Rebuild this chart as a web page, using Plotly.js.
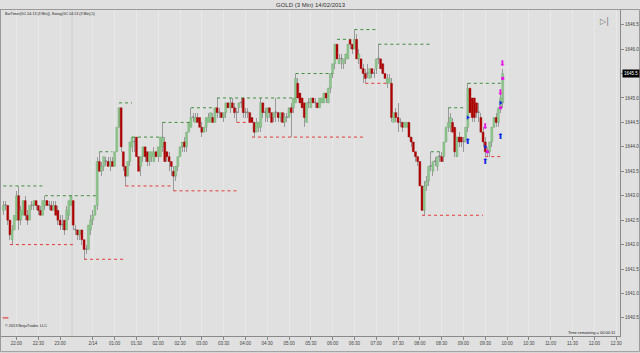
<!DOCTYPE html>
<html><head><meta charset="utf-8">
<script src="https://cdn.plot.ly/plotly-3.0.1.min.js"></script>
<style>html,body{margin:0;padding:0;background:#e0e0e0;}#chart{width:640px;height:353px;}</style>
</head><body><div id="chart"></div>
<script>
// bar numbers: first bar is -6 (bar 0 = 22:00), 3-minute bars
const firstBar = -6;
const open = [
1642.7,1642.8,1642.8,1642.5,1642.1,1642.3,1642.5,1643.0,1642.5,1642.6,
1642.9,1642.6,1642.5,1642.8,1642.8,1642.9,1642.8,1642.7,1642.6,1642.8,
1642.9,1642.8,1642.8,1642.7,1642.8,1642.7,1642.5,1642.4,1642.5,1642.3,
1642.6,1642.8,1642.9,1642.3,1642.3,1642.2,1642.3,1642.1,1641.9,1641.9,
1642.3,1642.5,1642.6,1642.8,1643.7,1643.5,1643.6,1643.7,1643.7,1643.6,
1643.7,1643.6,1643.9,1644.4,1644.8,1643.9,1643.6,1643.4,1643.7,1644.0,
1644.1,1644.2,1643.8,1643.6,1643.8,1644.0,1643.9,1643.7,1643.8,1643.7,
1643.9,1643.8,1643.8,1644.0,1644.1,1643.9,1643.8,1643.7,1643.5,1643.4,
1643.6,1643.8,1644.0,1644.1,1644.0,1644.3,1644.4,1644.6,1644.5,1644.6,
1644.6,1644.4,1644.3,1644.4,1644.5,1644.5,1644.6,1644.5,1644.8,1644.7,
1644.7,1644.6,1644.7,1644.9,1644.8,1644.9,1644.8,1644.7,1644.8,1644.9,
1645.0,1644.7,1644.7,1644.7,1644.6,1644.5,1644.3,1644.4,1644.4,1644.9,
1644.7,1644.6,1644.8,1644.7,1644.6,1644.7,1644.7,1644.6,1644.7,1644.5,
1644.6,1644.6,1644.8,1644.8,1644.9,1645.3,1645.1,1645.0,1644.9,1644.5,
1644.9,1644.8,1645.0,1644.9,1644.9,1644.8,1644.9,1644.9,1645.1,1644.9,
1645.2,1645.5,1645.7,1646.1,1645.7,1645.8,1645.7,1645.8,1645.8,1646.2,
1646.1,1646.0,1646.2,1645.8,1645.8,1645.6,1645.5,1645.5,1645.4,1645.6,
1645.5,1645.6,1645.8,1645.8,1645.7,1645.5,1645.3,1645.3,1645.3,1644.5,
1644.7,1644.6,1644.5,1644.5,1644.4,1644.4,1644.5,1644.2,1644.1,1643.9,
1643.8,1643.7,1643.2,1642.7,1643.2,1643.3,1643.6,1643.5,1643.7,1643.6,
1643.8,1643.8,1643.8,1644.1,1644.4,1644.4,1644.5,1644.4,1643.8,1644.2,
1644.2,1644.1,1644.1,1644.4,1645.2,1645.0,1645.0,1644.9,1644.7,1644.6,
1644.3,1644.1,1643.9,1643.9,1644.1,1644.4,1644.6,1644.5,1644.8,1644.9];
const high = [
1642.9,1642.9,1642.8,1642.5,1642.4,1642.6,1643.1,1643.2,1642.8,1643.0,
1643.0,1642.7,1642.8,1642.9,1642.9,1642.9,1642.8,1642.8,1642.9,1643.0,
1642.9,1642.9,1642.9,1642.9,1642.9,1642.8,1642.6,1642.6,1642.5,1642.8,
1642.9,1643.0,1642.9,1642.4,1642.3,1642.3,1642.3,1642.1,1642.0,1642.4,
1642.6,1642.7,1642.9,1643.8,1643.9,1643.7,1643.8,1643.8,1643.8,1643.8,
1643.8,1643.9,1644.4,1644.9,1644.8,1643.9,1643.6,1643.7,1644.1,1644.2,
1644.2,1644.2,1643.8,1643.8,1644.0,1644.0,1643.9,1643.9,1643.9,1644.0,
1644.0,1644.0,1644.2,1644.5,1644.2,1643.9,1643.9,1643.7,1643.6,1643.6,
1643.8,1644.0,1644.1,1644.2,1644.3,1644.5,1644.8,1644.7,1644.7,1644.7,
1644.6,1644.5,1644.5,1644.6,1644.7,1644.7,1644.7,1644.8,1645.0,1644.8,
1644.7,1644.7,1644.9,1644.9,1645.0,1645.0,1644.9,1644.8,1644.9,1645.0,
1645.0,1644.8,1644.8,1644.7,1644.7,1644.5,1644.6,1644.5,1645.0,1644.9,
1644.8,1644.8,1644.8,1644.7,1644.7,1645.0,1644.7,1644.7,1644.7,1644.7,
1644.7,1644.8,1644.9,1645.0,1645.5,1645.4,1645.1,1645.0,1644.9,1644.9,
1645.0,1645.0,1645.0,1645.0,1644.9,1645.0,1645.0,1645.1,1645.1,1645.2,
1645.5,1645.7,1646.1,1646.2,1645.9,1645.9,1645.8,1645.9,1646.1,1646.2,
1646.1,1646.4,1646.3,1646.0,1645.8,1645.7,1645.6,1645.7,1645.6,1645.6,
1645.6,1645.8,1646.1,1645.8,1645.7,1645.5,1645.5,1645.5,1645.4,1644.7,
1644.8,1644.9,1644.6,1644.5,1644.5,1644.5,1644.5,1644.2,1644.1,1643.9,
1643.8,1643.7,1643.3,1643.3,1643.4,1643.6,1643.9,1643.7,1643.8,1643.8,
1643.9,1643.9,1644.1,1644.4,1644.8,1644.7,1644.6,1644.4,1644.2,1644.3,
1644.2,1644.2,1644.4,1645.3,1645.2,1645.0,1645.0,1644.9,1644.9,1644.7,
1644.4,1644.2,1644.0,1644.1,1644.4,1644.6,1644.7,1644.8,1645.1,1645.6];
const low = [
1642.6,1642.7,1642.4,1642.1,1642.0,1642.3,1642.5,1642.3,1642.4,1642.5,
1642.5,1642.4,1642.5,1642.7,1642.7,1642.7,1642.6,1642.6,1642.6,1642.7,
1642.7,1642.7,1642.7,1642.7,1642.6,1642.4,1642.3,1642.3,1642.2,1642.3,
1642.5,1642.7,1642.3,1642.2,1642.1,1642.1,1642.0,1641.7,1641.8,1641.9,
1642.2,1642.4,1642.5,1642.7,1643.5,1643.4,1643.5,1643.6,1643.6,1643.5,
1643.6,1643.6,1643.9,1644.3,1643.9,1643.5,1643.2,1643.4,1643.6,1643.9,
1643.9,1643.8,1643.5,1643.4,1643.7,1643.7,1643.6,1643.6,1643.7,1643.7,
1643.5,1643.7,1643.8,1643.9,1643.7,1643.7,1643.5,1643.4,1643.1,1643.3,
1643.5,1643.7,1643.9,1643.9,1643.9,1644.3,1644.4,1644.5,1644.5,1644.5,
1644.4,1644.2,1644.3,1644.3,1644.5,1644.5,1644.5,1644.5,1644.6,1644.6,
1644.6,1644.5,1644.6,1644.7,1644.7,1644.8,1644.6,1644.5,1644.7,1644.8,
1644.6,1644.6,1644.6,1644.5,1644.2,1644.2,1644.3,1644.3,1644.3,1644.6,
1644.5,1644.5,1644.6,1644.5,1644.5,1644.5,1644.5,1644.5,1644.5,1644.4,
1644.5,1644.5,1644.2,1644.7,1644.9,1645.0,1644.9,1644.8,1644.4,1644.5,
1644.8,1644.8,1644.9,1644.8,1644.8,1644.8,1644.9,1644.9,1644.9,1644.9,
1645.1,1645.4,1645.6,1645.7,1645.7,1645.6,1645.6,1645.7,1645.8,1646.0,
1645.9,1646.0,1645.8,1645.7,1645.6,1645.3,1645.3,1645.4,1645.4,1645.4,
1645.4,1645.5,1645.7,1645.6,1645.5,1645.3,1645.2,1645.3,1644.5,1644.5,
1644.5,1644.3,1644.4,1644.3,1644.4,1644.4,1644.2,1644.0,1643.9,1643.7,
1643.6,1643.2,1642.6,1642.6,1643.1,1643.2,1643.5,1643.4,1643.6,1643.5,
1643.7,1643.7,1643.7,1644.0,1644.3,1644.3,1644.3,1643.8,1643.8,1644.0,
1644.0,1643.9,1644.1,1644.3,1644.6,1644.5,1644.5,1644.6,1644.5,1644.3,
1644.0,1643.8,1643.8,1643.8,1644.0,1644.3,1644.4,1644.4,1644.7,1644.8];
const close = [
1642.8,1642.8,1642.5,1642.2,1642.3,1642.6,1643.0,1642.5,1642.7,1642.9,
1642.6,1642.5,1642.8,1642.8,1642.9,1642.8,1642.7,1642.6,1642.9,1642.9,
1642.8,1642.8,1642.7,1642.8,1642.6,1642.5,1642.4,1642.4,1642.3,1642.7,
1642.9,1643.0,1642.4,1642.3,1642.2,1642.3,1642.1,1641.9,1641.9,1642.4,
1642.5,1642.6,1642.8,1643.7,1643.5,1643.6,1643.8,1643.7,1643.6,1643.7,
1643.6,1643.9,1644.4,1644.8,1644.0,1643.6,1643.4,1643.7,1644.1,1644.2,
1644.1,1643.8,1643.5,1643.8,1644.0,1643.8,1643.7,1643.9,1643.9,1643.9,
1643.8,1644.0,1644.2,1644.2,1643.7,1643.8,1643.7,1643.6,1643.4,1643.6,
1643.8,1644.0,1644.1,1644.0,1644.3,1644.5,1644.6,1644.6,1644.6,1644.5,
1644.4,1644.3,1644.4,1644.6,1644.6,1644.7,1644.5,1644.8,1644.7,1644.7,
1644.6,1644.7,1644.9,1644.8,1644.9,1644.8,1644.7,1644.7,1644.9,1644.9,
1644.7,1644.7,1644.7,1644.5,1644.5,1644.3,1644.5,1644.5,1644.9,1644.7,
1644.7,1644.8,1644.7,1644.5,1644.7,1644.7,1644.6,1644.7,1644.5,1644.6,
1644.6,1644.8,1644.7,1645.0,1645.4,1645.0,1644.9,1644.8,1644.6,1644.9,
1644.9,1645.0,1644.9,1644.9,1644.8,1645.0,1645.0,1645.1,1645.0,1645.2,
1645.5,1645.7,1646.1,1645.8,1645.8,1645.8,1645.8,1645.9,1646.1,1646.1,
1646.0,1646.2,1645.8,1645.9,1645.6,1645.5,1645.4,1645.5,1645.6,1645.5,
1645.5,1645.8,1645.8,1645.6,1645.5,1645.4,1645.4,1645.4,1644.6,1644.7,
1644.6,1644.5,1644.5,1644.4,1644.5,1644.5,1644.2,1644.1,1643.9,1643.8,
1643.7,1643.2,1642.7,1643.2,1643.3,1643.6,1643.6,1643.7,1643.7,1643.8,
1643.8,1643.7,1644.1,1644.4,1644.5,1644.6,1644.3,1643.9,1644.2,1644.1,
1644.1,1644.1,1644.4,1645.2,1644.7,1644.6,1644.6,1644.7,1644.7,1644.3,
1644.1,1643.9,1643.9,1644.1,1644.4,1644.6,1644.5,1644.8,1645.0,1645.5];

// swing high / low levels (price) and the bars they span
const swingHighLevel = [1643.2,1643.0,1643.9,1644.9,1644.2,1644.5,1644.8,1645.0,1645.5,1646.2,1646.4,1646.1,1643.9,1644.8,1645.3];
const swingHighFrom  = [-6,13,38,47,53,67,80,92,128,147,155,166,190,198,207];
const swingHighTo    = [12,37,44,53,67,80,91,128,145,153,166,190,195,206,223];
const swingLowLevel  = [1642.0,1641.7,1643.2,1643.1,1644.5,1644.2,1645.3,1642.6,1643.8];
const swingLowFrom   = [-3,31,50,72,101,108,160,186,215];
const swingLowTo     = [27,50,72,101,108,160,170,214,222];

// signal markers (bar, price)
const buyArrowBar = [207,215,222], buyArrowPrice = [1644.1,1643.7,1644.2];
const buyTickBar = [207,215,222], buyTickPrice = [1644.6,1644.0,1644.9];
const sellArrowBar = [215,222,223], sellArrowPrice = [1644.4,1645.1,1645.7];
const sellTickBar = [216,222,223], sellTickPrice = [1643.9,1644.8,1645.4];
const timerBar = [-5], timerPrice = [1640.5];

// time axis
const tickBars = [0,10,20,35,45,55,65,75,85,95,105,115,125,135,145,155,165,175,185,195,205,215,225,235,245,255,265,275];
const tickLabels = ['22:00','22:30','23:00','2/14','01:00','01:30','02:00','02:30','03:00','03:30','04:00','04:30','05:00','05:30','06:00','06:30','07:00','07:30','08:00','08:30','09:00','09:30','10:00','10:30','11:00','11:30','12:00','12:30'];
const lastPrice = 1645.5;

const xs = open.map((_, i) => firstBar + i);
const bodyBase = open.map((o, i) => Math.min(o, close[i]));
const bodyLen = open.map((o, i) => Math.max(Math.abs(close[i] - o), 0.018));
const bodyColor = open.map((o, i) => close[i] > o ? '#8cc98c' : (close[i] < o ? '#b00000' : '#808080'));
const bodyEdge = open.map((o, i) => close[i] > o ? '#6f9f6f' : (close[i] < o ? '#9a0000' : '#808080'));
const wickLen = high.map((h, i) => h - low[i]);

function levelTrace(levels, from, to, color) {
  const x = [], y = [];
  levels.forEach((lv, i) => { x.push(from[i], to[i], null); y.push(lv, lv, null); });
  return {type:'scatter', mode:'lines', x, y, line:{color, width:1, dash:'dot'}, hoverinfo:'skip'};
}

const traces = [
  levelTrace(swingHighLevel, swingHighFrom, swingHighTo, '#3f8f3f'),
  levelTrace(swingLowLevel, swingLowFrom, swingLowTo, '#e23a3a'),
  {type:'bar', x:xs, base:low, y:wickLen, width:0.42, marker:{color:'#9a9a9a', line:{width:0}}, hoverinfo:'skip'},
  {type:'bar', x:xs, base:bodyBase, y:bodyLen, width:0.9, marker:{color:bodyColor, line:{color:bodyEdge, width:0.4}}, hoverinfo:'skip'},
  {type:'scatter', mode:'text', x:buyArrowBar, y:buyArrowPrice, text:buyArrowBar.map(() => '⬆'), textfont:{family:'DejaVu Sans', size:8, color:'#1428e6'}},
  {type:'scatter', mode:'markers', x:buyTickBar, y:buyTickPrice, marker:{symbol:'triangle-right', size:4, color:'#1428e6'}},
  {type:'scatter', mode:'text', x:sellArrowBar, y:sellArrowPrice, text:sellArrowBar.map(() => '⬇'), textfont:{family:'DejaVu Sans', size:8, color:'#e614e6'}},
  {type:'scatter', mode:'markers', x:sellTickBar, y:sellTickPrice, marker:{symbol:'square', size:3, color:'#e614e6'}},
  {type:'scatter', mode:'markers', x:timerBar, y:timerPrice, marker:{symbol:'line-ew', size:4, line:{color:'#e02020', width:1}}}
];

const F = 'Liberation Sans, Arial, sans-serif';
const layout = {
  width:640, height:353,
  margin:{l:1, r:20, t:10, b:17, pad:0},
  paper_bgcolor:'#e0e0e0', plot_bgcolor:'#e0e0e0',
  showlegend:false, barmode:'overlay', bargap:0,
  title:{text:'GOLD (3 Min) 14/02/2013', font:{family:F, size:6, color:'#333'}, x:0.5, xanchor:'center', xref:'paper', y:0.986, yanchor:'middle', yref:'container'},
  xaxis:{range:[-7.1,276.8], tickmode:'array', tickvals:tickBars, ticktext:tickLabels,
    tickfont:{family:F, size:4.5, color:'#444'}, ticks:'outside', ticklen:3, tickcolor:'#888',
    showline:true, linecolor:'#8a8a8a', linewidth:1, mirror:true, showgrid:true, gridcolor:'#e8e8e8', gridwidth:1,
    zeroline:false, fixedrange:true},
  yaxis:{side:'right', range:[1640.13,1646.80], tick0:1640, dtick:0.5, tickformat:'.1f',
    tickfont:{family:F, size:4.5, color:'#444'}, ticks:'outside', ticklen:3, tickcolor:'#888',
    showline:true, linecolor:'#8a8a8a', linewidth:1, mirror:true, showgrid:false, zeroline:false, fixedrange:true},
  shapes:[
    {type:'rect', xref:'paper', yref:'paper', x0:-0.0008, x1:1.0315, y0:-0.048, y1:1.0015, line:{color:'#9a9a9a', width:1}},
    {type:'line', xref:'x', yref:'paper', x0:25.5, x1:25.5, y0:0, y1:1, line:{color:'#cdcdcd', width:1}, layer:'below'}
  ],
  annotations:[
    {xref:'paper', yref:'paper', x:0.003, y:0.988, xanchor:'left', yanchor:'middle', showarrow:false,
     text:'BarTimer(GC 04-13 (3 Min)), Swing(GC 04-13 (3 Min),5)', font:{family:F, size:3.6, color:'#222'}},
    {xref:'paper', yref:'paper', x:0.003, y:0.03, xanchor:'left', yanchor:'middle', showarrow:false,
     text:'© 2013 NinjaTrader, LLC', font:{family:F, size:3.8, color:'#222'}},
    {xref:'paper', yref:'paper', x:0.997, y:0.012, xanchor:'right', yanchor:'middle', showarrow:false,
     text:'Time remaining = 00:00:11', font:{family:F, size:4, color:'#222'}},
    {xref:'paper', yref:'paper', x:0.985, y:0.985, xanchor:'right', yanchor:'top', showarrow:false,
     text:'▷|', font:{family:'DejaVu Sans', size:8, color:'#777'}},
    {xref:'paper', yref:'y', x:1.004, y:lastPrice, xanchor:'left', yanchor:'middle', showarrow:false,
     text:lastPrice.toFixed(1), bgcolor:'#000', borderpad:1, font:{family:F, size:4.5, color:'#fff'}}
  ]
};
Plotly.newPlot('chart', traces, layout, {staticPlot:true, displayModeBar:false});
</script></body></html>
